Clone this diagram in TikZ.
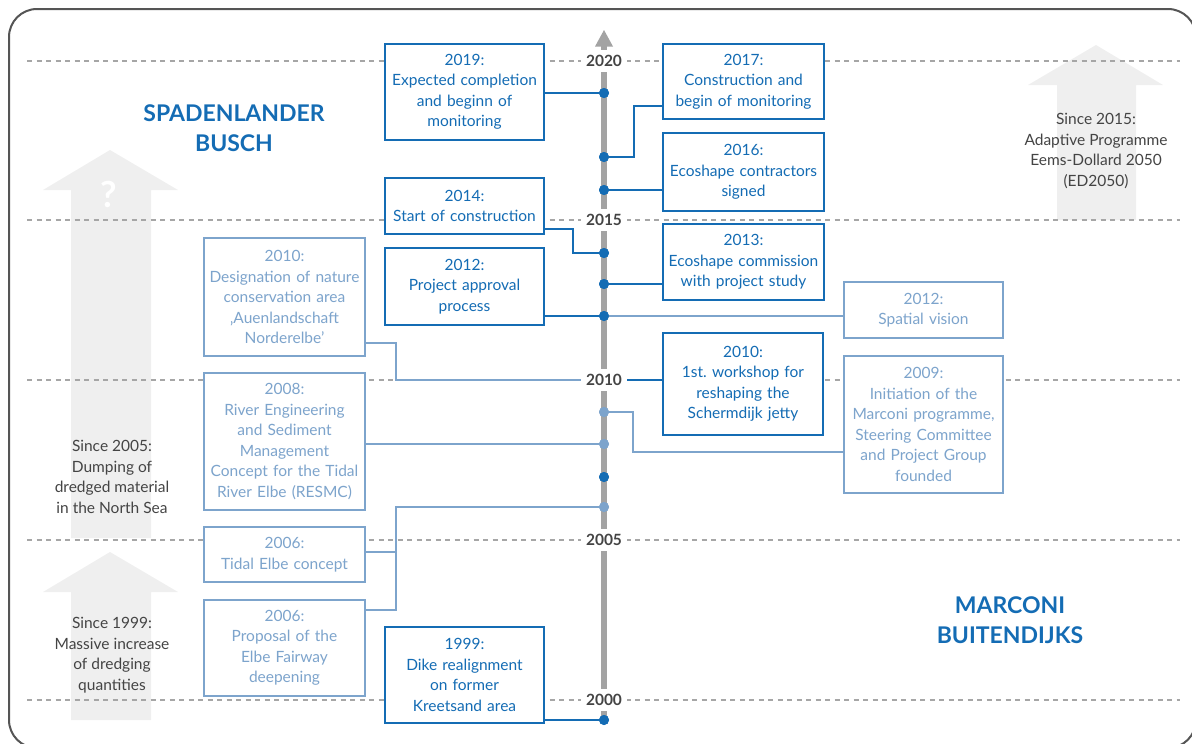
\documentclass[tikz,border=0pt]{standalone}
\usepackage{fontspec}
\setmainfont{Lato}
\frenchspacing
\usetikzlibrary{calc}
\definecolor{dblue}{RGB}{20,108,180}
\definecolor{lblue}{RGB}{125,164,204}
\definecolor{axisgray}{RGB}{163,163,163}
\definecolor{dashgray}{RGB}{166,166,166}
\definecolor{arrowgray}{RGB}{239,239,239}
\definecolor{txtgray}{RGB}{68,68,68}
\definecolor{framegray}{RGB}{85,85,85}
\tikzset{
  ev/.style={draw, fill=white, line width=2.4pt, align=center, inner xsep=2pt, inner ysep=0pt,
    font=\fontsize{15.5}{20.5}\selectfont},
  dk/.style={ev, draw=dblue, text=dblue},
  lt/.style={ev, draw=lblue, text=lblue},
  dkline/.style={draw=dblue, line width=2.4pt},
  ltline/.style={draw=lblue, line width=2.4pt},
  gridline/.style={draw=dashgray, line width=1.5pt, dash pattern=on 5pt off 4.5pt},
  yearlbl/.style={fill=white, text=txtgray, inner xsep=5pt, inner ysep=5pt,
    font=\fontsize{15.5}{18}\selectfont\bfseries},
  dkdot/.style={circle, fill=dblue, inner sep=0pt, minimum size=10pt},
  ltdot/.style={circle, fill=lblue, inner sep=0pt, minimum size=10pt},
  graytxt/.style={text=txtgray, align=center, font=\fontsize{15.5}{20.5}\selectfont},
  heading/.style={text=dblue, align=center, font=\fontsize{23}{30}\selectfont\bfseries},
  garrow/.style={fill=arrowgray, draw=none}
}
\begin{document}
\begin{tikzpicture}[x=1pt,y=-1pt]
\useasboundingbox (0,0) rectangle (1192,744);
% frame
\draw[framegray, line width=2pt, rounded corners=28pt] (9,9) rectangle (1196,748);
% gray background arrows
\fill[garrow] (110,150) -- (178,190) -- (151,190) -- (151,538) -- (71,538) -- (71,190) -- (43,190) -- cycle;
\fill[garrow] (110,552) -- (178,592) -- (151,592) -- (151,720) -- (71,720) -- (71,592) -- (43,592) -- cycle;
\fill[garrow] (1096,45) -- (1163,85) -- (1136,85) -- (1136,220) -- (1057,220) -- (1057,85) -- (1028,85) -- cycle;
\node[text=white, font=\fontsize{36}{36}\selectfont\bfseries] (qm) at (109,194) {?};
% dashed year lines
\foreach \yy in {61,220,380,540,700} {\draw[gridline] (27,\yy) -- (1180,\yy);}
% timeline axis
\draw[axisgray, line width=6pt] (604,720) -- (604,46);
\fill[axisgray] (604,30) -- (613,46.5) -- (595,46.5) -- cycle;
% headings
\node[heading] (spad) at (234,128) {SPADENLANDER\\BUSCH};
\node[heading] (marc) at (1010,620) {MARCONI\\BUITENDIJKS};
% gray texts
\node[graytxt] (t2015) at (1096,151) {Since 2015:\\Adaptive Programme\\Eems-Dollard 2050\\(ED2050)};
\node[graytxt] (t2005) at (112,477) {Since 2005:\\Dumping of\\dredged material\\in the North Sea};
\node[graytxt] (t1999) at (112,655) {Since 1999:\\Massive increase\\of dredging\\quantities};
% axis points
\node[dkdot] (d2019) at (604,93) {};
\node[dkdot] (d2017) at (604,157) {};
\node[dkdot] (d2016) at (604,190) {};
\node[dkdot] (d2014) at (604,253) {};
\node[dkdot] (d2013) at (604,284) {};
\node[dkdot] (d2012) at (604,316) {};
\coordinate (ax2010) at (604,380);
\node[ltdot] (d2009) at (604,412) {};
\node[ltdot] (d2008) at (604,444) {};
\node[dkdot] (d2007) at (604,477) {};
\node[ltdot] (d2006) at (604,507) {};
\node[dkdot] (d1999) at (604,720) {};
\coordinate (j2006) at (396,507);
% event boxes
\node[dk, text width=155pt, minimum height=96pt] (b2019) at (464.5,92) {2019:\\Expected completion\\and beginn of\\monitoring};
\node[dk, text width=157pt, minimum height=75pt] (b2017) at (743.5,81.5) {2017:\\Construction and\\begin of monitoring};
\node[dk, text width=157pt, minimum height=78pt] (b2016) at (743.5,172) {2016:\\Ecoshape contractors\\signed};
\node[dk, text width=155pt, minimum height=56pt] (b2014) at (464.5,206) {2014:\\Start of construction};
\node[dk, text width=157pt, minimum height=76pt] (b2013) at (743.5,262) {2013:\\Ecoshape commission\\with project study};
\node[dk, text width=155pt, minimum height=77pt] (b2012a) at (464.5,286.5) {2012:\\Project approval\\process};
\node[lt, text width=155pt, minimum height=56pt] (b2012b) at (923.5,310) {2012:\\Spatial vision};
\node[lt, text width=157pt, minimum height=118pt] (b2010a) at (284.5,297) {2010:\\Designation of nature\\conservation area\\‚Auenlandschaft\\Norderelbe’};
\node[dk, text width=156pt, minimum height=102pt] (b2010b) at (743,384) {2010:\\1st. workshop for\\reshaping the\\Schermdijk jetty};
\node[lt, text width=155pt, minimum height=137pt] (b2009) at (923.5,424.5) {2009:\\Initiation of the\\Marconi programme,\\Steering Committee\\and Project Group\\founded};
\node[lt, text width=157pt, minimum height=137pt] (b2008) at (284.5,441.5) {2008:\\River Engineering\\and Sediment\\Management\\Concept for the Tidal\\River Elbe (RESMC)};
\node[lt, text width=157pt, minimum height=55pt] (b2006a) at (284.5,554.5) {2006:\\Tidal Elbe concept};
\node[lt, text width=157pt, minimum height=96pt] (b2006b) at (284.5,648) {2006:\\Proposal of the\\Elbe Fairway\\deepening};
\node[dk, text width=155pt, minimum height=96pt] (b1999) at (464.5,675) {1999:\\Dike realignment\\on former\\Kreetsand area};
% connectors
\draw[dkline] (b2019.east |- d2019) -- (d2019.center);
\draw[dkline] ([yshift=-24.5pt]b2017.west) -| ([xshift=30pt]d2017.center) -- (d2017.center);
\draw[dkline] (d2016.center) -- (d2016 -| b2016.west);
\draw[dkline] ([yshift=-23pt]b2014.east) -| ([xshift=-31pt]d2014.center) -- (d2014.center);
\draw[dkline] (d2013.center) -- (d2013 -| b2013.west);
\draw[ltline] (d2012.center) -- (d2012 -| b2012b.west);
\draw[dkline] (b2012a.east |- d2012) -- (d2012.center);
\draw[ltline] ([yshift=-46pt]b2010a.east) -| ([xshift=-208pt]ax2010) -- (ax2010);
\draw[dkline] (ax2010) -- (ax2010 -| b2010b.west);
\draw[ltline] ([yshift=-27.5pt]b2009.west) -| ([xshift=29pt]d2009.center) -- (d2009.center);
\draw[ltline] (b2008.east |- d2008) -- (d2008.center);
\draw[ltline] ([yshift=2.5pt]b2006a.east) -- ([yshift=2.5pt]b2006a.east -| j2006);
\draw[ltline] ([yshift=38pt]b2006b.east) -| (j2006) -- (d2006.center);
\draw[dkline] (b1999.east |- d1999) -- (d1999.center);
% redraw dots on top
\foreach \d/\s in {d2019/dkdot,d2017/dkdot,d2016/dkdot,d2014/dkdot,d2013/dkdot,d2012/dkdot,d2009/ltdot,d2008/ltdot,d2007/dkdot,d2006/ltdot,d1999/dkdot}
  {\node[\s] at (\d) {};}
% year labels
\node[yearlbl] (y2020) at (604,61) {2020};
\node[yearlbl] (y2015) at (604,220) {2015};
\node[yearlbl] (y2010) at (604,380) {2010};
\node[yearlbl] (y2005) at (604,540) {2005};
\node[yearlbl] (y2000) at (604,700) {2000};
\end{tikzpicture}
\end{document}
